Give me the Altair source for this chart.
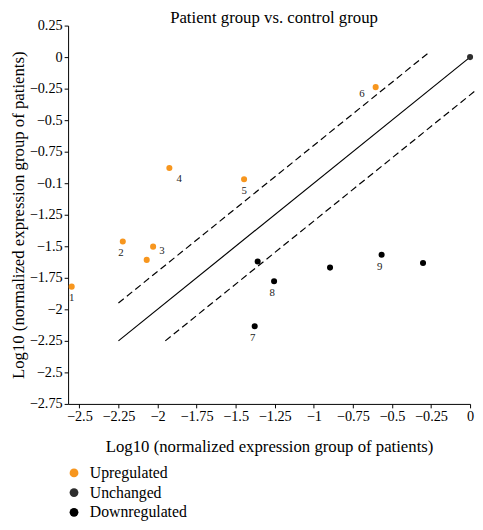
import altair as alt
import pandas as pd

SERIF = "Liberation Serif"

# ---- data ----
x_vals = [-2.549, -2.222, -2.028, -2.069, -1.924, -1.446, -0.604, 0.0,
          -1.359, -1.254, -0.896, -0.566, -0.301, -1.378]
y_vals = [-1.820, -1.462, -1.503, -1.608, -0.879, -0.969, -0.238, 0.0,
          -1.620, -1.777, -1.669, -1.567, -1.633, -2.134]
groups = ["Upregulated"] * 7 + ["Unchanged"] + ["Downregulated"] * 6
labels = ["1", "2", "3", "", "4", "5", "6", "", "", "8", "", "9", "", "7"]

group_order = ["Upregulated", "Unchanged", "Downregulated"]
group_colors = ["#F7961E", "#2E2E2E", "#000000"]

# reference lines: y = x, y = x + 0.3, y = x - 0.3
solid_x = [-2.25, 0.0]
solid_y = [-2.25, 0.0]
upper_x = [-2.25, -0.27]
upper_y = [-1.95, 0.03]
lower_x = [-1.95, 0.035]
lower_y = [-2.25, -0.265]

x_ticks = [-2.5, -2.25, -2.0, -1.75, -1.5, -1.25, -1.0, -0.75, -0.5, -0.25, 0.0]
x_tick_labels = ["−2.5", "−2.25", "−2", "−1.75", "−1.5", "−1.25", "−1",
                 "−0.75", "−0.5", "−0.25", "0"]
y_ticks = [0.25, 0.0, -0.25, -0.5, -0.75, -1.0, -1.25, -1.5, -1.75, -2.0,
           -2.25, -2.5, -2.75]
y_tick_labels = ["0.25", "0", "−0.25", "−0.5", "−0.75", "−0.1", "−1.25",
                 "−1.5", "−1.75", "−2", "−2.25", "−2.5", "−2.75"]

title_text = "Patient group vs. control group"
axis_title = "Log10 (normalized expression group of patients)"

pts = pd.DataFrame({"x": x_vals, "y": y_vals, "group": groups, "label": labels})


def label_expr(vals, labs):
    return "".join(f"abs(datum.value - ({v})) < 1e-6 ? '{l}' : " for v, l in zip(vals, labs)) + "''"


xscale = alt.Scale(domain=[-2.572, 0.0], nice=False, zero=False)
yscale = alt.Scale(domain=[-2.75, 0.25], nice=False, zero=False)

xaxis = alt.Axis(values=x_ticks, labelExpr=label_expr(x_ticks, x_tick_labels),
                 title=axis_title, titleX=204, titleY=43, titleAlign="center",
                 titleBaseline="middle", labelFlush=False, labelOverlap=False,
                 labelFont=SERIF)
yaxis = alt.Axis(values=y_ticks, labelExpr=label_expr(y_ticks, y_tick_labels),
                 title=axis_title, titleX=-45, titleY=192, titleAngle=270,
                 titleAlign="center", titleBaseline="alphabetic", labelFlush=False,
                 labelOverlap=False, labelFont=SERIF)

X = alt.X("x:Q", scale=xscale, axis=xaxis)
Y = alt.Y("y:Q", scale=yscale, axis=yaxis)


def line_layer(xs, ys, dash=None):
    df = pd.DataFrame({"x": xs, "y": ys})
    kw = dict(color="black", strokeWidth=1.2)
    if dash:
        kw["strokeDash"] = dash
    return alt.Chart(df).mark_line(**kw).encode(x=X, y=Y)


solid = line_layer(solid_x, solid_y)
upper = line_layer(upper_x, upper_y, [7, 4])
lower = line_layer(lower_x, lower_y, [7, 4])

points = alt.Chart(pts).mark_circle(size=38, opacity=1).encode(
    x=X,
    y=Y,
    color=alt.Color("group:N", scale=alt.Scale(domain=group_order, range=group_colors),
                    sort=group_order,
                    legend=alt.Legend(title=None, orient="none", legendX=-2, legendY=446,
                                      symbolType="circle", symbolSize=80,
                                      labelFontSize=16, labelFont=SERIF,
                                      labelColor="black", rowPadding=4,
                                      labelOffset=8, padding=0)),
)


def text_layer(which, dx, dy):
    return alt.Chart(pts).transform_filter(
        alt.FieldOneOfPredicate(field="label", oneOf=which)
    ).mark_text(font=SERIF, fontSize=11, color="#222222", dx=dx, dy=dy,
                align="center", baseline="middle").encode(
        x=X, y=Y, text="label:N",
    )


texts = [
    text_layer(["1", "5"], 0, 12),
    text_layer(["2", "7", "8", "9"], -2, 12),
    text_layer(["3"], 9, 4),
    text_layer(["4"], 10, 11),
    text_layer(["6"], -14, 7),
]

chart = alt.layer(solid, upper, lower, points, *texts).properties(
    width=408,
    height=384,
    title=alt.TitleParams(title_text, anchor="middle", offset=0, dy=9, dx=5,
                          font=SERIF, fontSize=17, fontWeight="normal", color="black"),
    autosize=alt.AutoSizeParams(type="none"),
    padding={"left": 61, "top": 14, "right": 5, "bottom": 116},
).configure_axis(
    labelFont=SERIF, labelFontSize=14.5, labelColor="black",
    titleFont=SERIF, titleFontSize=17, titleFontWeight="normal", titleColor="black",
    domainColor="black", tickColor="black", tickSize=4, labelPadding=2, grid=False,
    domainWidth=1, tickWidth=1, labelOverlap=False,
).configure_title(dx=5).configure_view(stroke=None)

chart.save("out.html", embed_options={"renderer": "svg", "actions": False})
